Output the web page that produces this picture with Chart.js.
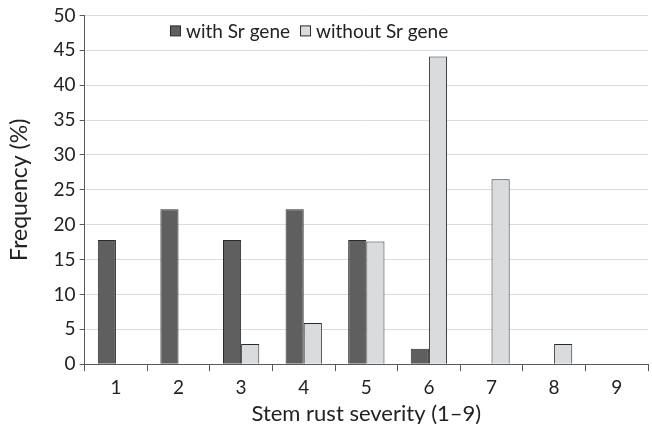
<!DOCTYPE html>
<html>
<head>
<meta charset="utf-8">
<script src="https://cdn.jsdelivr.net/npm/chart.js@4"></script>
<style>
  html, body { margin: 0; padding: 0; background: #fff; }
  .wrap { width: 652px; height: 424px; position: relative; }
</style>
</head>
<body>
<div class="wrap"><canvas id="chart" width="652" height="424"></canvas></div>
<script>
// ── Data ────────────────────────────────────────────────────────────────────
const severity = ['1', '2', '3', '4', '5', '6', '7', '8', '9']
const withSr = [17.8, 22.2, 17.8, 22.2, 17.8, 2.2, 0, 0, 0]
const withoutSr = [0, 0, 2.9, 5.9, 17.6, 44.1, 26.5, 2.9, 0]
const seriesNames = ['with Sr gene', 'without Sr gene']

const FONT = 'Lato, "Noto Sans", sans-serif'
const DARK = '#5f5f5f'
const LIGHT = '#dadbdc'
const EDGE = '#2b2b2b'
const AXIS = '#595959'

// legend drawn inside the plot area, like the original
const innerLegend = {
  id: 'innerLegend',
  afterDraw(chart) {
    const { ctx } = chart
    const y = chart.chartArea.top + 15
    let x = 170
    ctx.save()
    ctx.font = '19px ' + FONT
    ctx.textBaseline = 'middle'
    chart.data.datasets.forEach(ds => {
      ctx.fillStyle = ds.backgroundColor
      ctx.strokeStyle = EDGE
      ctx.lineWidth = 1
      ctx.fillRect(x + 0.5, y - 4.5, 10, 10)
      ctx.strokeRect(x + 0.5, y - 4.5, 10, 10)
      ctx.fillStyle = '#222'
      ctx.fillText(ds.label, x + 16, y + 1)
      x += 16 + ctx.measureText(ds.label).width + 10
    })
    ctx.restore()
  }
}

new Chart(document.getElementById('chart'), {
  type: 'bar',
  data: {
    labels: severity,
    datasets: [
      { label: seriesNames[0], data: withSr, backgroundColor: DARK, borderColor: EDGE, borderWidth: 1 },
      { label: seriesNames[1], data: withoutSr, backgroundColor: LIGHT, borderColor: EDGE, borderWidth: 1 }
    ]
  },
  options: {
    responsive: false,
    animation: false,
    layout: { padding: { top: 14, right: 4, left: 6, bottom: 0 } },
    datasets: { bar: { categoryPercentage: 0.58, barPercentage: 1 } },
    plugins: { legend: { display: false }, tooltip: { enabled: false } },
    scales: {
      x: {
        grid: { drawOnChartArea: false, drawTicks: true, tickLength: 7, color: AXIS },
        border: { color: AXIS, width: 1 },
        ticks: { color: '#222', font: { family: FONT, size: 19, lineHeight: 1 }, padding: 7 },
        title: { display: true, text: 'Stem rust severity (1–9)', color: '#222', font: { family: FONT, size: 22, lineHeight: 0.9 }, padding: { top: 0, bottom: 0 } }
      },
      y: {
        min: 0,
        max: 50,
        ticks: { stepSize: 5, color: '#222', font: { family: FONT, size: 19 }, padding: 4 },
        grid: { color: '#dcdcdc', tickColor: AXIS, tickLength: 5, lineWidth: 1 },
        border: { color: AXIS, width: 1 },
        title: { display: true, text: 'Frequency (%)', color: '#222', font: { family: FONT, size: 23 }, padding: { top: 0, bottom: 16 } }
      }
    }
  },
  plugins: [innerLegend]
})
</script>
</body>
</html>
